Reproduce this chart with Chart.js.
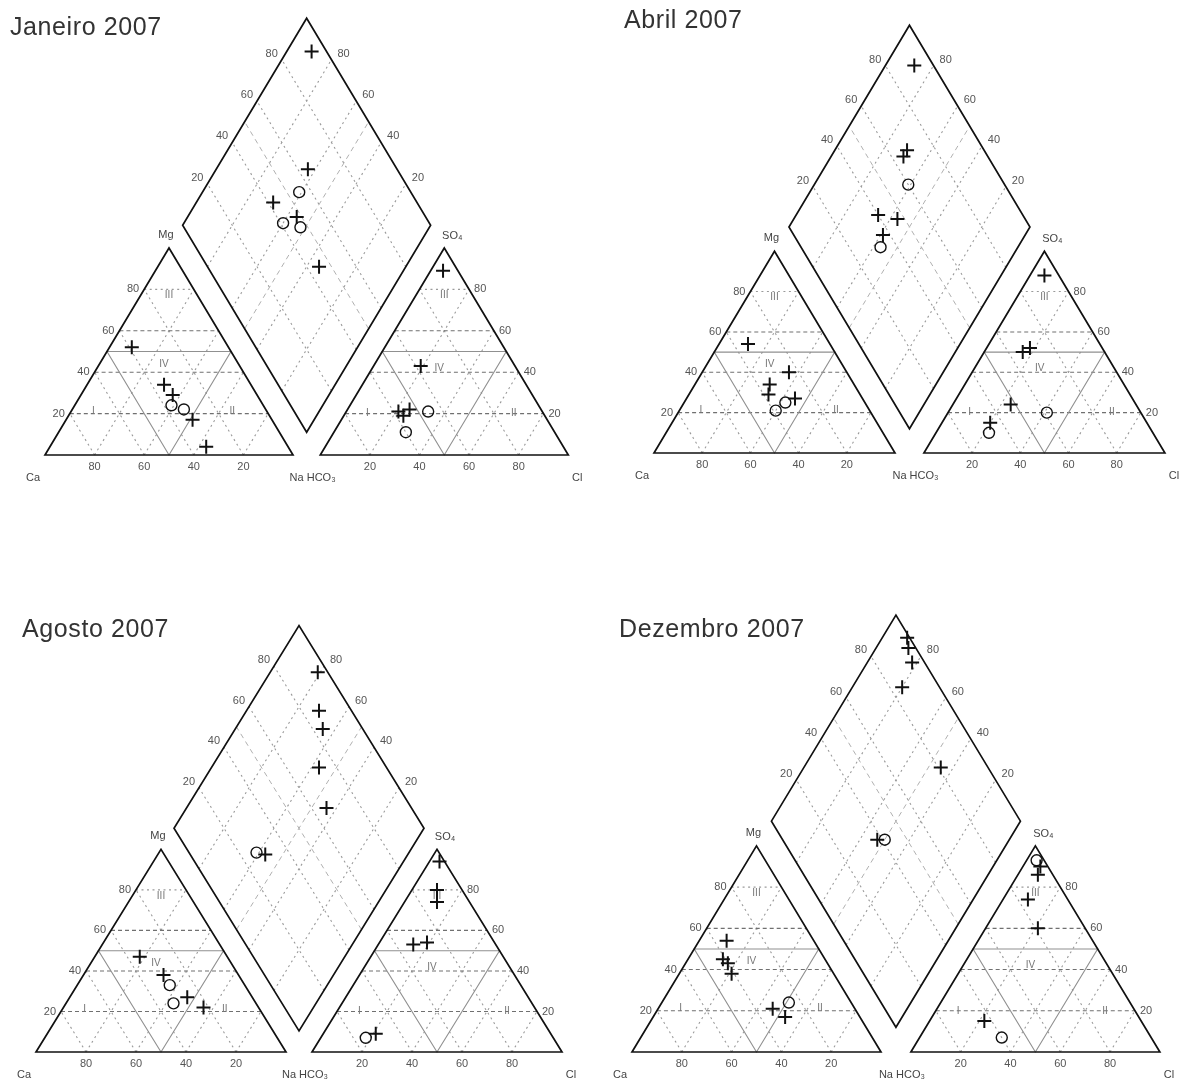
<!DOCTYPE html>
<html>
<head>
<meta charset="utf-8">
<title>Diagramas de Piper 2007</title>
<script src="https://cdn.jsdelivr.net/npm/chart.js@4.4.1/dist/chart.umd.min.js"></script>
<style>
    body { margin: 0; background: #fff; width: 1188px; height: 1088px; position: relative; overflow: hidden; font-family: "Liberation Sans", Arial, sans-serif; }
    .panel { position: absolute; width: 594px; height: 544px; }
    .title { position: absolute; font-size: 25px; letter-spacing: 0.6px; color: #333; white-space: nowrap; }
</style>
</head>
<body>
<div class="panel" style="left:0;top:0"><canvas id="piper-0" width="594" height="544"></canvas></div>
<div class="panel" style="left:594px;top:0"><canvas id="piper-1" width="594" height="544"></canvas></div>
<div class="panel" style="left:0;top:544px"><canvas id="piper-2" width="594" height="544"></canvas></div>
<div class="panel" style="left:594px;top:544px"><canvas id="piper-3" width="594" height="544"></canvas></div>
<div class="title" id="title-0" style="left:10px;top:12px"></div>
<div class="title" id="title-1" style="left:624px;top:5px"></div>
<div class="title" id="title-2" style="left:22px;top:614px"></div>
<div class="title" id="title-3" style="left:619px;top:614px"></div>

<script>
// Sampling campaigns
const campaigns = ['Janeiro 2007', 'Abril 2007', 'Agosto 2007', 'Dezembro 2007'];
const tickLabels = ['20', '40', '60', '80'];

// Cations, [Ca %, Mg %] (Na = rest)
const janCatCross = [[39, 52], [35, 34], [34, 29], [32, 17], [33, 4]];
const janCatCircle = [[37, 24], [33, 22]];
const abrCatCross = [[34, 54], [24, 40], [35, 34], [38, 29], [28, 27]];
const abrCatCircle = [[39, 21], [33, 25]];
const agoCatCross = [[35, 47], [30, 38], [26, 27], [22, 22]];
const agoCatCircle = [[30, 33], [33, 24]];
const dezCatCross = [[35, 54], [40, 43], [41, 45], [41, 38], [33, 21], [30, 17]];
const dezCatCircle = [[25, 24]];

// Anions, [Cl %, SO4 %] (HCO3 = rest)
const janAnCross = [[5, 89], [19, 43], [21, 21], [24, 19], [25, 22]];
const janAnCircle = [[33, 21], [29, 11]];
const abrAnCross = [[6, 88], [16, 50], [18, 52], [24, 24], [20, 15]];
const abrAnCircle = [[22, 10], [41, 20]];
const agoAnCross = [[4, 94], [10, 80], [13, 74], [14, 53], [19, 54], [21, 9]];
const agoAnCircle = [[18, 7]];
const dezAnCross = [[7, 90], [8, 86], [10, 74], [21, 60], [22, 15]];
const dezAnCircle = [[4, 93], [33, 7]];

// Diamond, [Ca+Mg %, SO4+Cl %]
const janDiaCross = [[90, 94], [63, 64], [69, 42], [56, 48], [35, 45]];
const janDiaCircle = [[61, 55], [60, 41], [52, 47]];
const abrDiaCross = [[88, 92], [70, 68], [70, 65], [66, 40], [57, 47], [59, 37]];
const abrDiaCircle = [[61, 60], [57, 33]];
const agoDiaCross = [[81, 96], [71, 87], [65, 84], [57, 73], [44, 66], [57, 30]];
const agoDiaCircle = [[61, 27]];
const dezDiaCross = [[90, 99], [87, 97], [82, 95], [80, 85], [45, 81], [53, 38]];
const dezDiaCircle = [[50, 41]];

const H = Math.sqrt(3) / 2;

// where each diagram sits on the page (Ca corner, px per unit, gap between triangles)
const layout = [
    { left: 0, top: 0, ox: 45, oy: 455, sx: 248, sy: 239, gap: 0.11 },
    { left: 594, top: 0, ox: 654, oy: 453, sx: 241, sy: 233, gap: 0.12 },
    { left: 0, top: 544, ox: 36, oy: 1052, sx: 250, sy: 234, gap: 0.104 },
    { left: 594, top: 544, ox: 632, oy: 1052, sx: 249, sy: 238, gap: 0.12 }
];

// ternary -> piper units (triangle side = 1)
function cationXY(ca, mg) {
    let na = 100 - ca - mg;
    return { x: (na + mg / 2) / 100, y: mg / 100 * H };
}
function anionXY(cl, so4, gap) {
    return { x: 1 + gap + (cl + so4 / 2) / 100, y: so4 / 100 * H };
}
function diamondXY(camg, so4cl, gap) {
    return { x: 1 + gap / 2 + (so4cl - camg) / 200, y: gap * H + (camg + so4cl) / 100 * H };
}

// Frame, grid and labels of the Piper diagram
const piperFrame = {
    id: 'piperFrame',
    beforeDatasetsDraw(chart) {
        const g = chart.options.plugins.piperFrame.gap;
        const ctx = chart.ctx;
        const xs = chart.scales.x, ys = chart.scales.y;
        const pix = p => [xs.getPixelForValue(p.x), ys.getPixelForValue(p.y)];

        function seg(a, b, color, width, dash) {
            let pa = pix(a), pb = pix(b);
            ctx.save();
            ctx.strokeStyle = color;
            ctx.lineWidth = width;
            ctx.setLineDash(dash || []);
            ctx.beginPath();
            ctx.moveTo(pa[0], pa[1]);
            ctx.lineTo(pb[0], pb[1]);
            ctx.stroke();
            ctx.restore();
        }
        function poly(pts, color, width) {
            ctx.save();
            ctx.strokeStyle = color;
            ctx.lineWidth = width;
            ctx.lineJoin = 'miter';
            ctx.beginPath();
            pts.forEach((p, i) => {
                let q = pix(p);
                if (i === 0) ctx.moveTo(q[0], q[1]); else ctx.lineTo(q[0], q[1]);
            });
            ctx.closePath();
            ctx.stroke();
            ctx.restore();
        }
        function text(str, p, dx, dy, align, size, color) {
            let q = pix(p);
            ctx.save();
            ctx.font = size + 'px "Liberation Sans", Arial, sans-serif';
            ctx.fillStyle = color;
            ctx.textAlign = align;
            ctx.textBaseline = 'middle';
            ctx.fillText(str, q[0] + dx, q[1] + dy);
            ctx.restore();
        }

        const dot = [2, 3.5], dash = [4, 3];
        const dotCol = '#9a9a9a', dashCol = '#707070', zoneCol = '#909090';

        // grids at 20 % steps
        [20, 40, 60, 80].forEach(k => {
            // cation triangle
            seg(cationXY(100 - k, k), cationXY(0, k), k < 80 ? dashCol : dotCol, 1.1, k < 80 ? dash : dot);
            seg(cationXY(k, 0), cationXY(k, 100 - k), dotCol, 1.1, dot);
            seg(cationXY(100 - k, 0), cationXY(0, 100 - k), dotCol, 1.1, dot);
            // anion triangle
            seg(anionXY(0, k, g), anionXY(100 - k, k, g), k < 80 ? dashCol : dotCol, 1.1, k < 80 ? dash : dot);
            seg(anionXY(k, 0, g), anionXY(k, 100 - k, g), dotCol, 1.1, dot);
            seg(anionXY(100 - k, 0, g), anionXY(0, 100 - k, g), dotCol, 1.1, dot);
            // diamond
            seg(diamondXY(k, 0, g), diamondXY(k, 100, g), dotCol, 1.1, dot);
            seg(diamondXY(0, k, g), diamondXY(100, k, g), dotCol, 1.1, dot);
        });
        seg(diamondXY(50, 0, g), diamondXY(50, 100, g), '#b0b0b0', 1, [5, 4]);
        seg(diamondXY(0, 50, g), diamondXY(100, 50, g), '#b0b0b0', 1, [5, 4]);

        // classification zones (medial triangles)
        poly([cationXY(50, 0), cationXY(50, 50), cationXY(0, 50)], zoneCol, 1.1);
        poly([anionXY(50, 0, g), anionXY(0, 50, g), anionXY(50, 50, g)], zoneCol, 1.1);

        // outlines
        poly([cationXY(100, 0), cationXY(0, 0), cationXY(0, 100)], '#111', 1.7);
        poly([anionXY(0, 0, g), anionXY(100, 0, g), anionXY(0, 100, g)], '#111', 1.7);
        poly([diamondXY(0, 0, g), diamondXY(100, 0, g), diamondXY(100, 100, g), diamondXY(0, 100, g)], '#111', 1.7);

        // tick labels
        const tc = '#555', ts = 11;
        tickLabels.forEach((lab, i) => {
            let k = +lab;
            text(lab, cationXY(100 - k, k), -5, 0, 'right', ts, tc);
            text(tickLabels[3 - i], cationXY(100 - k, 0), 0, 12, 'center', ts, tc);
            text(lab, anionXY(k, 0, g), 0, 12, 'center', ts, tc);
            text(lab, anionXY(100 - k, k, g), 5, 0, 'left', ts, tc);
            text(lab, diamondXY(100, k, g), -4, -6, 'right', ts, tc);
            text(lab, diamondXY(k, 100, g), 6, -6, 'left', ts, tc);
        });

        // corner labels
        text('Ca', cationXY(100, 0), -12, 23, 'center', 11, '#444');
        text('Na HCO\u2083', diamondXY(0, 0, g), 6, 23 + (ys.getPixelForValue(0) - ys.getPixelForValue(g * H)), 'center', 11, '#444');
        text('Cl', anionXY(100, 0, g), 9, 23, 'center', 11, '#444');
        text('Mg', cationXY(0, 100), -3, -13, 'center', 11, '#444');
        text('SO\u2084', anionXY(0, 100, g), 8, -12, 'center', 11, '#444');

        // zone numbers
        const zc = '#777', zs = 10;
        text('III', cationXY(11.5, 77), 0, 0, 'center', zs, zc);
        text('IV', cationXY(30, 44), 0, 0, 'center', zs, zc);
        text('I', cationXY(70, 21), 0, 0, 'center', zs, zc);
        text('II', cationXY(14, 21), 0, 0, 'center', zs, zc);
        text('III', anionXY(11.5, 77, g), 0, 0, 'center', zs, zc);
        text('IV', anionXY(27, 42, g), 0, 0, 'center', zs, zc);
        text('I', anionXY(9, 20, g), 0, 0, 'center', zs, zc);
        text('II', anionXY(68, 20, g), 0, 0, 'center', zs, zc);
    }
};

// Build the point list of one diagram
function piperPoints(cat, an, dia, gap) {
    let pts = [];
    cat.forEach(v => pts.push(cationXY(v[0], v[1])));
    an.forEach(v => pts.push(anionXY(v[0], v[1], gap)));
    dia.forEach(v => pts.push(diamondXY(v[0], v[1], gap)));
    return pts;
}

const crossSets = [
    [janCatCross, janAnCross, janDiaCross],
    [abrCatCross, abrAnCross, abrDiaCross],
    [agoCatCross, agoAnCross, agoDiaCross],
    [dezCatCross, dezAnCross, dezDiaCross]
];
const circleSets = [
    [janCatCircle, janAnCircle, janDiaCircle],
    [abrCatCircle, abrAnCircle, abrDiaCircle],
    [agoCatCircle, agoAnCircle, agoDiaCircle],
    [dezCatCircle, dezAnCircle, dezDiaCircle]
];

campaigns.forEach((name, i) => {
    let L = layout[i];
    document.getElementById('title-' + i).innerText = name;

    // scale ranges so the Ca corner lands on (ox, oy)
    let xMin = -(L.ox - L.left) / L.sx;
    let yMax = (L.oy - L.top) / L.sy;

    new Chart(document.getElementById('piper-' + i), {
        type: 'scatter',
        data: {
            datasets: [{
                data: piperPoints(crossSets[i][0], crossSets[i][1], crossSets[i][2], L.gap),
                pointStyle: 'cross',
                pointRadius: 7,
                borderColor: '#111',
                borderWidth: 2
            }, {
                data: piperPoints(circleSets[i][0], circleSets[i][1], circleSets[i][2], L.gap),
                pointStyle: 'circle',
                pointRadius: 5.5,
                borderColor: '#111',
                backgroundColor: 'rgba(0,0,0,0)',
                borderWidth: 1.4
            }]
        },
        options: {
            responsive: false,
            animation: false,
            events: [],
            layout: { padding: 0, autoPadding: false },
            scales: {
                x: { type: 'linear', min: xMin, max: xMin + 594 / L.sx, display: false },
                y: { type: 'linear', min: yMax - 544 / L.sy, max: yMax, display: false }
            },
            plugins: {
                legend: { display: false },
                tooltip: { enabled: false },
                piperFrame: { gap: L.gap }
            }
        },
        plugins: [piperFrame]
    });
});
</script>
</body>
</html>
